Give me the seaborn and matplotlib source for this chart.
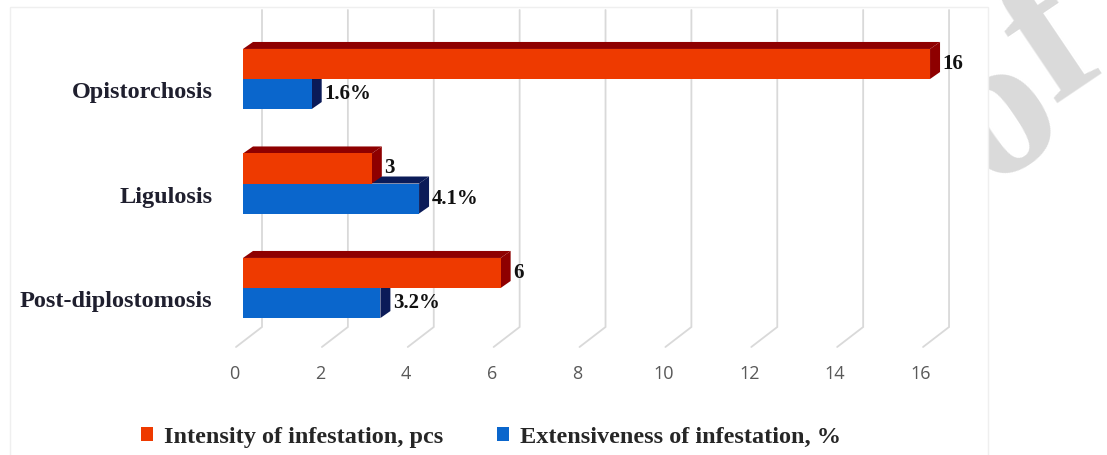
import numpy as np
import pandas as pd
import matplotlib
matplotlib.use('Agg')
import matplotlib.pyplot as plt
import seaborn as sns
from matplotlib.patches import Polygon, Rectangle, Patch
from matplotlib.transforms import ScaledTranslation

# data
diseases = ['Opistorchosis', 'Ligulosis', 'Post-diplostomosis']
intensity = [16, 3, 6]
extensiveness = [1.6, 4.1, 3.2]
series = ['Intensity of infestation, pcs', 'Extensiveness of infestation, %']
ticks = [0, 2, 4, 6, 8, 10, 12, 14, 16]

RED, RED_DARK = '#EE3A00', '#8E0000'
BLUE, BLUE_DARK = '#0A66CC', '#0B1B58'
GRID = '#d9d9d9'

df = pd.DataFrame({
	'disease': diseases * 2,
	'value': intensity + extensiveness,
	'series': [series[0]] * len(diseases) + [series[1]] * len(diseases),
})

sns.set_theme(style='white')
plt.rcParams['font.family'] = ['Liberation Serif', 'DejaVu Serif']

W, H = 1107, 455
fig = plt.figure(figsize=(W / 100, H / 100), dpi=100)


def fx(px):
	return px / W


def fy(py):
	return 1 - py / H


# watermark ("...of") sitting behind the chart picture
wm = dict(fontsize=145, rotation=34, rotation_mode='anchor', color='#dadada',
		  family='Liberation Serif', fontweight='bold', zorder=0)
fig.text(fx(1001), fy(118), 'o', ha='center', va='center', **wm)
fig.text(fx(1080), fy(86), 'f', ha='center', va='baseline', **wm)
fig.add_artist(Rectangle((fx(10), -0.02), fx(978), 1.02 - 7 / H,
						 transform=fig.transFigure, facecolor='white',
						 edgecolor='#efefef', linewidth=1, zorder=1))

# axes box in pixels
left, right, top, bottom = 218, 1000, 0, 355
ax = fig.add_axes([fx(left), fy(bottom), fx(right - left), (bottom - top) / H])
ax.set_zorder(2)
ax.patch.set_alpha(0)

sns.barplot(data=df, y='disease', x='value', hue='series', orient='h',
			width=0.575, palette=[RED, BLUE], saturation=1, ax=ax, legend=False)

px_x = 42.94   # pixels per unit on x
px_y = 104.5   # pixels per category
x0px, y0px = 243, 79
ax.set_xlim((left - x0px) / px_x, (right - x0px) / px_x)
ax.set_ylim((bottom - y0px) / px_y, (top - y0px) / px_y)


def dx(px):
	return px / px_x


def dy(py):
	return py / px_y


# back wall gridlines + floor
for v in ticks:
	ax.plot([v + dx(19), v + dx(19), v - dx(7)],
			[dy(10 - y0px), dy(327 - y0px), dy(347 - y0px)],
			color=GRID, lw=1.3, zorder=0, solid_joinstyle='miter')

# 3d faces of the bars
ox, oy = dx(10), dy(7)
for cont, dark, z in zip(ax.containers, [RED_DARK, BLUE_DARK], [4, 3]):
	for rect in cont:
		x0, y, w, h = rect.get_x(), rect.get_y(), rect.get_width(), rect.get_height()
		x1 = x0 + w
		rect.set_zorder(z)
		rect.set_edgecolor('none')
		top_face = [(x0, y), (x0 + ox, y - oy), (x1 + ox, y - oy), (x1, y)]
		side_face = [(x1, y), (x1 + ox, y - oy), (x1 + ox, y + h - oy), (x1, y + h)]
		for pts in (top_face, side_face):
			ax.add_patch(Polygon(pts, closed=True, facecolor=dark,
								 edgecolor='none', zorder=z - 0.1))

ax.bar_label(ax.containers[0], labels=[f'{v:g}' for v in intensity],
			 padding=9, fontsize=15, fontweight='bold', color='#111111')
ax.bar_label(ax.containers[1], labels=[f'{v:.1f}%' for v in extensiveness],
			 padding=9, fontsize=15, fontweight='bold', color='#111111')

for s in ax.spines.values():
	s.set_visible(False)

ax.set_xticks(ticks)
ax.set_xticklabels([str(t) for t in ticks], color='#595959', fontsize=13,
				   family='Open Sans')
ax.tick_params(axis='x', length=0, pad=7)
for lab in ax.get_xticklabels():
	lab.set_transform(lab.get_transform() + ScaledTranslation(-0.09, 0, fig.dpi_scale_trans))

ax.set_yticks(range(len(diseases)))
ax.set_yticklabels(diseases, fontsize=17.5, fontweight='bold', color='#1f1f2e')
ax.tick_params(axis='y', length=0, pad=4)
for lab in ax.get_yticklabels():
	lab.set_transform(lab.get_transform() + ScaledTranslation(0, -0.11, fig.dpi_scale_trans))
ax.set_xlabel('')
ax.set_ylabel('')

handles = [Patch(facecolor=RED, edgecolor='none'), Patch(facecolor=BLUE, edgecolor='none')]
fig.legend(handles, series, loc='center', bbox_to_anchor=(fx(491), fy(437)),
		   ncol=2, frameon=False, prop={'size': 17.5, 'weight': 'bold'},
		   handlelength=0.5, handleheight=0.5, handletextpad=0.45, columnspacing=2.2)

fig.savefig('out.png', dpi=100)
